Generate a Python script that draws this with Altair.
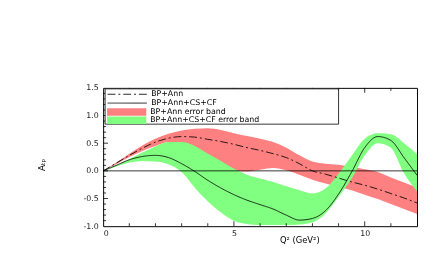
import altair as alt
import pandas as pd

# ---- data ----
q = [0, 0.5, 1.0, 1.5, 2.0, 2.5, 3.0, 3.5, 4.0, 4.5, 5.0, 5.5, 6.0, 6.5,
     7.0, 7.5, 8.0, 8.5, 9.0, 9.5, 10.0, 10.5, 11.0, 11.5, 12.0]

ann_line = [0, 0.14, 0.28, 0.41, 0.52, 0.59, 0.62, 0.61, 0.57, 0.53, 0.48, 0.42, 0.37, 0.31,
            0.24, 0.13, 0.0, -0.06, -0.13, -0.2, -0.26, -0.33, -0.41, -0.49, -0.58]
ann_hi = [0, 0.15, 0.31, 0.46, 0.58, 0.67, 0.73, 0.76, 0.77, 0.74, 0.68, 0.63, 0.58, 0.52,
          0.42, 0.28, 0.17, 0.13, 0.11, 0.07, 0.03, -0.02, -0.12, -0.21, -0.30]
ann_lo = [0, 0.12, 0.25, 0.36, 0.45, 0.52, 0.47, 0.33, 0.18, 0.07, 0.0, -0.01, 0.02, 0.05,
          0.01, -0.07, -0.16, -0.23, -0.29, -0.35, -0.43, -0.51, -0.60, -0.69, -0.78]

full_line = [0, 0.10, 0.20, 0.26, 0.28, 0.24, 0.13, -0.01, -0.17, -0.31, -0.43, -0.53, -0.61, -0.69,
             -0.80, -0.89, -0.86, -0.72, -0.42, -0.02, 0.42, 0.62, 0.55, 0.24, -0.08]
full_hi = [0, 0.10, 0.21, 0.33, 0.44, 0.52, 0.52, 0.45, 0.31, 0.18, 0.04, -0.07, -0.14, -0.20,
           -0.28, -0.35, -0.41, -0.32, -0.05, 0.27, 0.58, 0.68, 0.66, 0.50, 0.30]
full_lo = [0, 0.08, 0.15, 0.18, 0.17, 0.12, -0.02, -0.30, -0.55, -0.75, -0.90, -0.96, -0.98, -0.98,
           -0.98, -0.97, -0.93, -0.77, -0.47, -0.14, 0.28, 0.50, 0.42, -0.04, -0.37]

line_names = ["BP+Ann", "BP+Ann+CS+CF"]
band_names = ["BP+Ann error band", "BP+Ann+CS+CF error band"]
band_colors = ["#ff8080", "#80ff80"]

y_major = [-0.5, 0.0, 0.5, 1.0]
y_minor = [-0.9, -0.8, -0.7, -0.6, -0.4, -0.3, -0.2, -0.1, 0.1, 0.2, 0.3, 0.4,
           0.6, 0.7, 0.8, 0.9, 1.1, 1.2, 1.3, 1.4]
x_major = [5, 10]
x_minor = [1, 2, 3, 4, 6, 7, 8, 9, 11]
y_label_values = [-1.0, -0.5, 0.0, 0.5, 1.0, 1.5]
x_label_values = [0, 5, 10]
zero_line = [0.0]

# ---- tables ----
df_ann = pd.DataFrame({"q": q, "y": ann_line, "series": line_names[0]})
df_full = pd.DataFrame({"q": q, "y": full_line, "series": line_names[1]})
df_ann_band = pd.DataFrame({"q": q, "hi": ann_hi, "lo": ann_lo, "band": band_names[0]})
df_full_band = pd.DataFrame({"q": q, "hi": full_hi, "lo": full_lo, "band": band_names[1]})

W, H = 320, 141
xs = alt.Scale(domain=[0, 12], nice=False, zero=False)
ys = alt.Scale(domain=[-1, 1.5], nice=False, zero=False)

xaxis = alt.Axis(values=x_label_values, ticks=False, domain=False, grid=False,
                 labelFontSize=8, labelPadding=3, title="Q² (GeV²)",
                 titleFontSize=8.5, titleX=200, titleY=10)
yaxis = alt.Axis(values=y_label_values, ticks=False, domain=False, grid=False,
                 labelExpr="replace(format(datum.value, '.1f'), '\u2212', '-')",
                 labelFontSize=8, labelPadding=5, title="Aₜₚ",
                 titleFontSize=9, titleX=-58, titleY=78)

LEG_FONT = 8
line_legend = alt.Legend(
    title=None, orient="none", legendX=2, legendY=2, direction="vertical",
    padding=0, labelFontSize=LEG_FONT, labelFont="DejaVu Sans", labelLimit=400,
    symbolType="M-5,0H5", symbolSize=64, symbolStrokeColor="black",
    symbolStrokeWidth=1, rowPadding=0, labelOffset=20, symbolOffset=18,
)
band_legend = alt.Legend(
    title=None, orient="none", legendX=2, legendY=20.5, direction="vertical",
    padding=0, labelFontSize=LEG_FONT, labelFont="DejaVu Sans", labelLimit=400,
    symbolType="M-5,-0.95H5V0.95H-5Z", symbolSize=64, symbolStrokeWidth=0,
    symbolOpacity=1, rowPadding=0.5, labelOffset=20, symbolOffset=18,
)

dash = alt.StrokeDash("series:N", scale=alt.Scale(domain=line_names, range=[[8, 3, 2, 3], [1, 0]]),
                      legend=line_legend)
fill = alt.Color("band:N", scale=alt.Scale(domain=band_names, range=band_colors),
                 legend=band_legend)

X = alt.X("q:Q", scale=xs, axis=xaxis)

red_band = alt.Chart(df_ann_band).mark_area(interpolate="monotone", clip=True).encode(
    x=X, y=alt.Y("hi:Q", scale=ys, axis=yaxis), y2="lo:Q", color=fill)
green_band = alt.Chart(df_full_band).mark_area(interpolate="monotone", clip=True,
                                               blend="multiply").encode(
    x=X, y=alt.Y("hi:Q", scale=ys, axis=yaxis), y2="lo:Q", color=fill)
green_band2 = alt.Chart(df_full_band).mark_area(interpolate="monotone", clip=True,
                                                opacity=0.3).encode(
    x=X, y=alt.Y("hi:Q", scale=ys, axis=yaxis), y2="lo:Q", color=fill)

zero = alt.Chart(pd.DataFrame({"z": zero_line})).mark_rule(
    color="black", strokeWidth=0.8).encode(y=alt.Y("z:Q", scale=ys, axis=yaxis))

ann = alt.Chart(df_ann).mark_line(interpolate="monotone", clip=True, strokeWidth=1,
                                  opacity=0.85, color="black").encode(
    x=X, y=alt.Y("y:Q", scale=ys, axis=yaxis), strokeDash=dash)
full = alt.Chart(df_full).mark_line(interpolate="monotone", clip=True, strokeWidth=1,
                                    opacity=0.85, color="black").encode(
    x=X, y=alt.Y("y:Q", scale=ys, axis=yaxis), strokeDash=dash)

# legend frame
legend_box = alt.Chart(pd.DataFrame({"k": [0]})).mark_rect(
    fill="white", stroke="black", strokeWidth=0.8).encode(
    x=alt.value(2), x2=alt.value(240), y=alt.value(1), y2=alt.value(37))


def yticks(vals, length):
    return alt.Chart(pd.DataFrame({"v": vals})).mark_rule(color="black", strokeWidth=0.8).encode(
        y=alt.Y("v:Q", scale=ys, axis=yaxis), x=alt.value(0), x2=alt.value(length))


def xticks(vals, length, top):
    base = alt.Chart(pd.DataFrame({"t": vals})).mark_rule(color="black", strokeWidth=0.8)
    if top:
        return base.encode(x=alt.X("t:Q", scale=xs, axis=xaxis), y=alt.value(0), y2=alt.value(length))
    return base.encode(x=alt.X("t:Q", scale=xs, axis=xaxis), y=alt.value(H), y2=alt.value(H - length))


chart = alt.layer(
    red_band, green_band, green_band2, zero, ann, full,
    yticks(y_major, 5), yticks(y_minor, 3),
    xticks(x_major, 5, False), xticks(x_minor, 3, False),
    xticks(x_major, 5, True), xticks(x_minor, 3, True),
    legend_box,
).properties(
    width=W, height=H,
    autosize=alt.AutoSizeParams(type="none"),
    padding={"left": 97, "top": 79, "right": 2, "bottom": 30},
).configure_view(stroke="black", strokeWidth=1).configure_axis(
    labelFont="DejaVu Sans", titleFont="DejaVu Sans", labelColor="#222",
    titleColor="black", titleFontWeight="normal"
)

chart.save("out.html", embed_options={"renderer": "svg", "actions": False})
